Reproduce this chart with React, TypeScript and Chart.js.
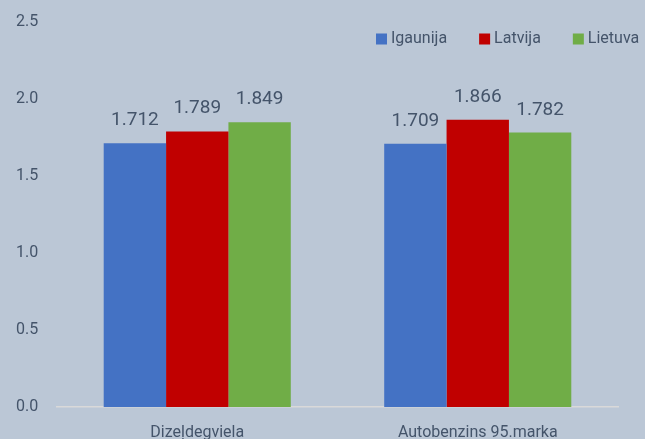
import React, { useEffect, useRef } from "react";
import { Chart, registerables } from "chart.js";

Chart.register(...registerables);

const categories = ["Dizeļdegviela", "Autobenzins 95.marka"];
const seriesNames = ["Igaunija", "Latvija", "Lietuva"];
const igaunija = [1.712, 1.709];
const latvija = [1.789, 1.866];
const lietuva = [1.849, 1.782];
const seriesColors = ["#4472c4", "#c00000", "#70ad47"];
const yMin = 0;
const yMax = 2.5;
const yStep = 0.5;

const BG = "#bbc7d6";
const TEXT = "#44546a";
const FONT = "Roboto, 'Liberation Sans', Arial, sans-serif";

const bgPlugin = {
  id: "bg",
  beforeDraw(chart: any) {
    const { ctx, width, height } = chart;
    ctx.save();
    ctx.fillStyle = BG;
    ctx.fillRect(0, 0, width, height);
    ctx.restore();
  },
};

const valueLabels = {
  id: "valueLabels",
  afterDatasetsDraw(chart: any) {
    const { ctx } = chart;
    ctx.save();
    ctx.fillStyle = TEXT;
    ctx.font = `19px ${FONT}`;
    ctx.textAlign = "center";
    ctx.textBaseline = "alphabetic";
    chart.data.datasets.forEach((ds: any, i: number) => {
      const meta = chart.getDatasetMeta(i);
      meta.data.forEach((el: any, j: number) => {
        ctx.fillText(Number(ds.data[j]).toFixed(3), el.x, el.y - 18);
      });
    });
    ctx.restore();
  },
};

const customLegend = {
  id: "customLegend",
  afterDraw(chart: any) {
    const { ctx } = chart;
    ctx.save();
    ctx.font = `16px ${FONT}`;
    ctx.textBaseline = "middle";
    ctx.textAlign = "left";
    let x = 376;
    const cy = 39;
    chart.data.datasets.forEach((ds: any) => {
      ctx.fillStyle = ds.backgroundColor;
      ctx.fillRect(x, cy - 5.5, 11, 11);
      ctx.fillStyle = TEXT;
      ctx.fillText(ds.label, x + 15, cy);
      x += 15 + ctx.measureText(ds.label).width + 32;
    });
    ctx.restore();
  },
};

export default function App() {
  const ref = useRef<HTMLCanvasElement>(null);

  useEffect(() => {
    document.body.style.margin = "0";
    document.body.style.background = BG;
    const series = [igaunija, latvija, lietuva];
    const chart = new Chart(ref.current as HTMLCanvasElement, {
      type: "bar",
      data: {
        labels: categories,
        datasets: series.map((d, i) => ({
          label: seriesNames[i],
          data: d,
          backgroundColor: seriesColors[i],
          borderWidth: 0,
          categoryPercentage: 0.667,
          barPercentage: 1.0,
        })),
      },
      options: {
        responsive: false,
        animation: false,
        devicePixelRatio: 1,
        layout: { padding: { top: 22, right: 27, left: 16, bottom: 0 } },
        plugins: {
          legend: { display: false },
          tooltip: { enabled: false },
        },
        scales: {
          x: {
            grid: { display: false, drawTicks: false },
            border: { display: true, color: "#d9d9d9", width: 1.5 },
            ticks: {
              color: TEXT,
              font: { family: FONT, size: 16 },
              padding: 16,
              maxRotation: 0,
            },
            afterFit: (s: any) => {
              s.height = 32;
            },
          },
          y: {
            min: yMin,
            max: yMax,
            grid: { display: false, drawTicks: false },
            border: { display: false },
            ticks: {
              stepSize: yStep,
              color: TEXT,
              font: { family: FONT, size: 16 },
              padding: 0,
              crossAlign: "far",
              callback: (v: any) => Number(v).toFixed(1),
            },
            afterFit: (s: any) => {
              s.width = 41;
            },
          },
        },
      },
      plugins: [bgPlugin, valueLabels, customLegend],
    });
    return () => chart.destroy();
  }, []);

  return (
    <div style={{ width: 645, height: 439, background: BG, overflow: "hidden" }}>
      <canvas ref={ref} width={645} height={439} style={{ display: "block" }} />
    </div>
  );
}
